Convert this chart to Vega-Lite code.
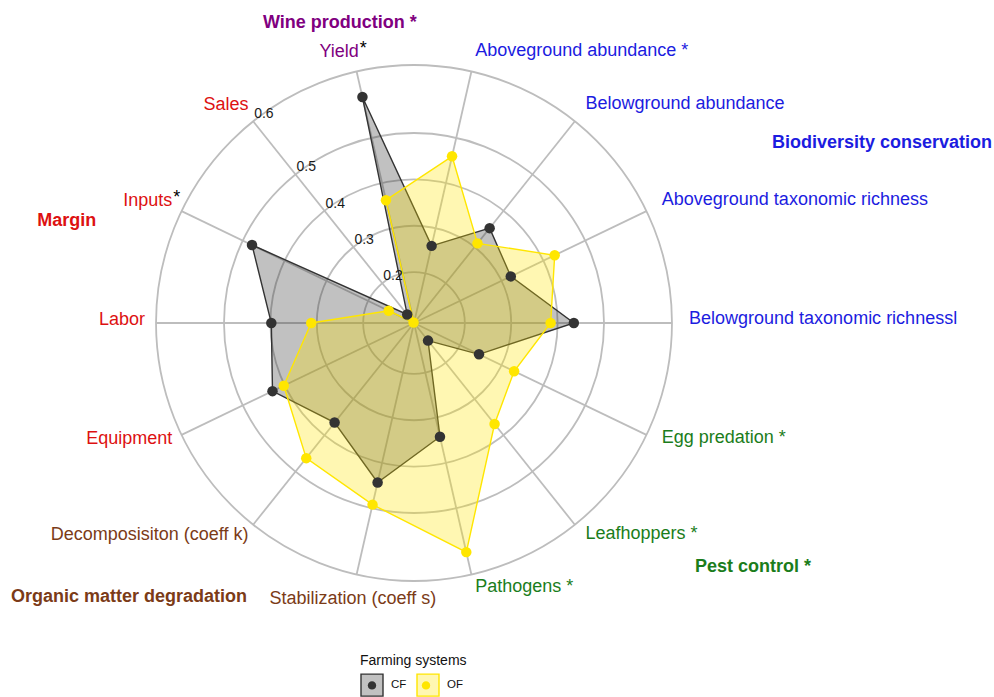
{
  "$schema": "https://vega.github.io/schema/vega-lite/v6.json",
  "width": 828,
  "height": 646,
  "autosize": "none",
  "padding": {"left": 0, "top": 0, "right": 166, "bottom": 51},
  "background": "white",
  "params": [
    {"name": "r0", "value": 0.0905},
    {"name": "rmax", "value": 0.6465},
    {"name": "rlab", "value": 0.6832}
  ],
  "datasets": {
    "axes": [
      {"idx": 0, "axis": "Aboveground abundance", "group": "Biodiversity conservation", "sig": true},
      {"idx": 1, "axis": "Belowground abundance", "group": "Biodiversity conservation", "sig": false},
      {"idx": 2, "axis": "Aboveground taxonomic richness", "group": "Biodiversity conservation", "sig": false},
      {"idx": 3, "axis": "Belowground taxonomic richnessl", "group": "Biodiversity conservation", "sig": false},
      {"idx": 4, "axis": "Egg predation", "group": "Pest control", "sig": true},
      {"idx": 5, "axis": "Leafhoppers", "group": "Pest control", "sig": true},
      {"idx": 6, "axis": "Pathogens", "group": "Pest control", "sig": true},
      {"idx": 7, "axis": "Stabilization (coeff s)", "group": "Organic matter degradation", "sig": false},
      {"idx": 8, "axis": "Decomposisiton (coeff k)", "group": "Organic matter degradation", "sig": false},
      {"idx": 9, "axis": "Equipment", "group": "Margin", "sig": false},
      {"idx": 10, "axis": "Labor", "group": "Margin", "sig": false},
      {"idx": 11, "axis": "Inputs", "group": "Margin", "sig": true},
      {"idx": 12, "axis": "Sales", "group": "Margin", "sig": false},
      {"idx": 13, "axis": "Yield", "group": "Wine production", "sig": true}
    ],
    "scores": [
      {"idx": 0, "system": "CF", "value": 0.261},
      {"idx": 1, "system": "CF", "value": 0.352},
      {"idx": 2, "system": "CF", "value": 0.322},
      {"idx": 3, "system": "CF", "value": 0.435},
      {"idx": 4, "system": "CF", "value": 0.246},
      {"idx": 5, "system": "CF", "value": 0.139},
      {"idx": 6, "system": "CF", "value": 0.342},
      {"idx": 7, "system": "CF", "value": 0.443},
      {"idx": 8, "system": "CF", "value": 0.365},
      {"idx": 9, "system": "CF", "value": 0.429},
      {"idx": 10, "system": "CF", "value": 0.398},
      {"idx": 11, "system": "CF", "value": 0.478},
      {"idx": 12, "system": "CF", "value": 0.114},
      {"idx": 13, "system": "CF", "value": 0.590},
      {"idx": 0, "system": "OF", "value": 0.459},
      {"idx": 1, "system": "OF", "value": 0.310},
      {"idx": 2, "system": "OF", "value": 0.427},
      {"idx": 3, "system": "OF", "value": 0.385},
      {"idx": 4, "system": "OF", "value": 0.330},
      {"idx": 5, "system": "OF", "value": 0.369},
      {"idx": 6, "system": "OF", "value": 0.597},
      {"idx": 7, "system": "OF", "value": 0.492},
      {"idx": 8, "system": "OF", "value": 0.463},
      {"idx": 9, "system": "OF", "value": 0.402},
      {"idx": 10, "system": "OF", "value": 0.312},
      {"idx": 11, "system": "OF", "value": 0.151},
      {"idx": 12, "system": "OF", "value": 0.092},
      {"idx": 13, "system": "OF", "value": 0.362}
    ],
    "grid": [
      {"level": 0.2, "label": "0.2"},
      {"level": 0.3, "label": "0.3"},
      {"level": 0.4, "label": "0.4"},
      {"level": 0.5, "label": "0.5"},
      {"level": 0.6465, "label": "0.6"}
    ],
    "groups": [
      {"group": "Wine production", "sig": true, "gx": -0.3254, "gy": 0.6466},
      {"group": "Biodiversity conservation", "sig": false, "gx": 0.7716, "gy": 0.3879},
      {"group": "Pest control", "sig": true, "gx": 0.6056, "gy": -0.5252},
      {"group": "Organic matter degradation", "sig": false, "gx": -0.8685, "gy": -0.5905},
      {"group": "Margin", "sig": false, "gx": -0.8118, "gy": 0.2205}
    ]
  },
  "layer": [
    {
      "data": {"name": "grid"},
      "transform": [{"calculate": "datum.level - r0", "as": "rr"}],
      "mark": {"type": "point", "shape": "circle", "filled": false, "opacity": 1, "stroke": "#bdbdbd", "strokeWidth": 1.8},
      "encoding": {
        "x": {"datum": 0, "type": "quantitative", "scale": {"domain": [-0.892241, 0.892241], "nice": false, "zero": false}, "axis": null},
        "y": {"datum": 0, "type": "quantitative", "scale": {"domain": [-0.696121, 0.696121], "nice": false, "zero": false}, "axis": null},
        "size": {"field": "rr", "type": "quantitative", "legend": null, "scale": {"type": "pow", "exponent": 2, "domain": [0, 1], "range": [0, 861184], "zero": true, "nice": false}}
      }
    },
    {
      "data": {"name": "axes"},
      "transform": [
        {"calculate": "(2*datum.idx+1)*PI/14", "as": "ang"},
        {"calculate": "(rmax-r0)*sin(datum.ang)", "as": "px"},
        {"calculate": "(rmax-r0)*cos(datum.ang)", "as": "py"},
        {"calculate": "0", "as": "cx"}
      ],
      "mark": {"type": "rule", "stroke": "#bdbdbd", "strokeWidth": 1.8},
      "encoding": {
        "x": {"field": "cx", "type": "quantitative", "scale": {"domain": [-0.892241, 0.892241], "nice": false, "zero": false}, "axis": null},
        "y": {"field": "cx", "type": "quantitative", "scale": {"domain": [-0.696121, 0.696121], "nice": false, "zero": false}, "axis": null},
        "x2": {"field": "px"},
        "y2": {"field": "py"}
      }
    },
    {
      "data": {"name": "scores"},
      "transform": [
        {"filter": "datum.system === 'CF'"},
        {"calculate": "(2*datum.idx+1)*PI/14", "as": "ang"},
        {"calculate": "(datum.value-r0)*sin(datum.ang)", "as": "px"},
        {"calculate": "(datum.value-r0)*cos(datum.ang)", "as": "py"}
      ],
      "mark": {"type": "line", "interpolate": "linear-closed", "fillOpacity": 0.3, "strokeWidth": 1.4},
      "encoding": {
        "x": {"field": "px", "type": "quantitative", "scale": {"domain": [-0.892241, 0.892241], "nice": false, "zero": false}, "axis": null},
        "y": {"field": "py", "type": "quantitative", "scale": {"domain": [-0.696121, 0.696121], "nice": false, "zero": false}, "axis": null},
        "order": {"field": "idx", "type": "quantitative"},
        "fill": {"field": "system", "type": "nominal", "scale": {"domain": ["CF", "OF"], "range": ["#333333", "#ffe600"]},
          "legend": {"title": "Farming systems", "orient": "none", "legendX": 360, "legendY": 654, "direction": "horizontal", "symbolType": "square", "symbolSize": 484, "symbolStrokeWidth": 1.5, "labelOffset": 7, "columnPadding": 7, "titlePadding": 5, "padding": 0, "titleFontSize": 14, "titleFontWeight": "normal", "titleColor": "#111111", "labelFontSize": 11.5, "labelColor": "#111111"}},
        "stroke": {"field": "system", "type": "nominal", "scale": {"domain": ["CF", "OF"], "range": ["#333333", "#ffe600"]},
          "legend": {"title": "Farming systems", "orient": "none", "legendX": 360, "legendY": 654, "direction": "horizontal", "symbolType": "square", "symbolSize": 484, "symbolStrokeWidth": 1.5, "labelOffset": 7, "columnPadding": 7, "titlePadding": 5, "padding": 0, "titleFontSize": 14, "titleFontWeight": "normal", "titleColor": "#111111", "labelFontSize": 11.5, "labelColor": "#111111"}}
      }
    },
    {
      "data": {"name": "scores"},
      "transform": [
        {"filter": "datum.system === 'OF'"},
        {"calculate": "(2*datum.idx+1)*PI/14", "as": "ang"},
        {"calculate": "(datum.value-r0)*sin(datum.ang)", "as": "px"},
        {"calculate": "(datum.value-r0)*cos(datum.ang)", "as": "py"}
      ],
      "mark": {"type": "line", "interpolate": "linear-closed", "fillOpacity": 0.3, "strokeWidth": 1.4},
      "encoding": {
        "x": {"field": "px", "type": "quantitative", "scale": {"domain": [-0.892241, 0.892241], "nice": false, "zero": false}, "axis": null},
        "y": {"field": "py", "type": "quantitative", "scale": {"domain": [-0.696121, 0.696121], "nice": false, "zero": false}, "axis": null},
        "order": {"field": "idx", "type": "quantitative"},
        "fill": {"field": "system", "type": "nominal", "scale": {"domain": ["CF", "OF"], "range": ["#333333", "#ffe600"]}},
        "stroke": {"field": "system", "type": "nominal", "scale": {"domain": ["CF", "OF"], "range": ["#333333", "#ffe600"]}}
      }
    },
    {
      "data": {"name": "scores"},
      "transform": [
        {"calculate": "(2*datum.idx+1)*PI/14", "as": "ang"},
        {"calculate": "(datum.value-r0)*sin(datum.ang)", "as": "px"},
        {"calculate": "(datum.value-r0)*cos(datum.ang)", "as": "py"}
      ],
      "mark": {"type": "circle", "size": 110, "opacity": 1},
      "encoding": {
        "x": {"field": "px", "type": "quantitative", "scale": {"domain": [-0.892241, 0.892241], "nice": false, "zero": false}, "axis": null},
        "y": {"field": "py", "type": "quantitative", "scale": {"domain": [-0.696121, 0.696121], "nice": false, "zero": false}, "axis": null},
        "color": {"field": "system", "type": "nominal",
          "scale": {"domain": ["CF", "OF", "Wine production", "Biodiversity conservation", "Pest control", "Organic matter degradation", "Margin"], "range": ["#333333", "#ffe600", "#800080", "#1c1ce0", "#1b7d1b", "#7b3b17", "#dd1111"]},
          "legend": {"title": "Farming systems", "values": ["CF", "OF"], "orient": "none", "legendX": 360, "legendY": 654, "direction": "horizontal", "symbolType": "M-0.38,0A0.38,0.38,0,1,1,0.38,0A0.38,0.38,0,1,1,-0.38,0Z", "symbolSize": 484, "symbolStrokeWidth": 1.5, "symbolStrokeColor": "transparent", "labelOffset": 7, "columnPadding": 7, "titlePadding": 5, "padding": 0, "titleFontSize": 14, "titleFontWeight": "normal", "titleColor": "transparent", "labelFontSize": 11.5, "labelColor": "transparent"}}
      }
    },
    {
      "data": {"name": "grid"},
      "transform": [
        {"calculate": "(datum.level-r0)*sin(25*PI/14)", "as": "px"},
        {"calculate": "(datum.level-r0)*cos(25*PI/14)", "as": "py"}
      ],
      "mark": {"type": "text", "align": "left", "baseline": "bottom", "fontSize": 14, "color": "#1a1a1a", "dx": 1},
      "encoding": {
        "x": {"field": "px", "type": "quantitative", "scale": {"domain": [-0.892241, 0.892241], "nice": false, "zero": false}, "axis": null},
        "y": {"field": "py", "type": "quantitative", "scale": {"domain": [-0.696121, 0.696121], "nice": false, "zero": false}, "axis": null},
        "text": {"field": "label"}
      }
    },
    {
      "data": {"name": "axes"},
      "transform": [
        {"filter": "datum.idx <= 6"},
        {"calculate": "(2*datum.idx+1)*PI/14", "as": "ang"},
        {"calculate": "(rlab-r0)*sin(datum.ang)", "as": "px"},
        {"calculate": "(rlab-r0)*cos(datum.ang)", "as": "py"},
        {"calculate": "datum.sig ? datum.axis + '\u00a0*' : datum.axis", "as": "labeltext"}
      ],
      "mark": {"type": "text", "align": "left", "baseline": "middle", "fontSize": 18, "dy": -4},
      "encoding": {
        "x": {"field": "px", "type": "quantitative", "scale": {"domain": [-0.892241, 0.892241], "nice": false, "zero": false}, "axis": null},
        "y": {"field": "py", "type": "quantitative", "scale": {"domain": [-0.696121, 0.696121], "nice": false, "zero": false}, "axis": null},
        "text": {"field": "labeltext"},
        "color": {"field": "group", "type": "nominal", "legend": null}
      }
    },
    {
      "data": {"name": "axes"},
      "transform": [
        {"filter": "datum.idx >= 8"},
        {"calculate": "(2*datum.idx+1)*PI/14", "as": "ang"},
        {"calculate": "(rlab-r0)*sin(datum.ang)", "as": "px"},
        {"calculate": "(rlab-r0)*cos(datum.ang)", "as": "py"}
      ],
      "mark": {"type": "text", "align": "right", "baseline": "middle", "fontSize": 18, "dx": 6, "dy": -3},
      "encoding": {
        "x": {"field": "px", "type": "quantitative", "scale": {"domain": [-0.892241, 0.892241], "nice": false, "zero": false}, "axis": null},
        "y": {"field": "py", "type": "quantitative", "scale": {"domain": [-0.696121, 0.696121], "nice": false, "zero": false}, "axis": null},
        "text": {"field": "axis"},
        "color": {"field": "group", "type": "nominal", "legend": null}
      }
    },
    {
      "data": {"name": "axes"},
      "transform": [
        {"filter": "datum.idx >= 8 && datum.sig"},
        {"calculate": "(2*datum.idx+1)*PI/14", "as": "ang"},
        {"calculate": "(rlab-r0)*sin(datum.ang)", "as": "px"},
        {"calculate": "(rlab-r0)*cos(datum.ang)", "as": "py"},
        {"calculate": "'\u00a0*'", "as": "star"}
      ],
      "mark": {"type": "text", "align": "left", "baseline": "middle", "fontSize": 18, "dx": 7, "dy": -6, "color": "#000000"},
      "encoding": {
        "x": {"field": "px", "type": "quantitative", "scale": {"domain": [-0.892241, 0.892241], "nice": false, "zero": false}, "axis": null},
        "y": {"field": "py", "type": "quantitative", "scale": {"domain": [-0.696121, 0.696121], "nice": false, "zero": false}, "axis": null},
        "text": {"field": "star"}
      }
    },
    {
      "data": {"name": "axes"},
      "transform": [
        {"filter": "datum.idx == 7"},
        {"calculate": "(2*datum.idx+1)*PI/14", "as": "ang"},
        {"calculate": "(rlab-r0)*sin(datum.ang)", "as": "px"},
        {"calculate": "(rlab-r0)*cos(datum.ang)", "as": "py"}
      ],
      "mark": {"type": "text", "align": "center", "baseline": "middle", "fontSize": 18, "dy": 8},
      "encoding": {
        "x": {"field": "px", "type": "quantitative", "scale": {"domain": [-0.892241, 0.892241], "nice": false, "zero": false}, "axis": null},
        "y": {"field": "py", "type": "quantitative", "scale": {"domain": [-0.696121, 0.696121], "nice": false, "zero": false}, "axis": null},
        "text": {"field": "axis"},
        "color": {"field": "group", "type": "nominal", "legend": null}
      }
    },
    {
      "data": {"name": "groups"},
      "transform": [
        {"calculate": "datum.sig ? datum.group + '\u00a0*' : datum.group", "as": "labeltext"}
      ],
      "mark": {"type": "text", "align": "left", "baseline": "middle", "fontSize": 18, "fontWeight": "bold"},
      "encoding": {
        "x": {"field": "gx", "type": "quantitative", "scale": {"domain": [-0.892241, 0.892241], "nice": false, "zero": false}, "axis": null},
        "y": {"field": "gy", "type": "quantitative", "scale": {"domain": [-0.696121, 0.696121], "nice": false, "zero": false}, "axis": null},
        "text": {"field": "labeltext"},
        "color": {"field": "group", "type": "nominal", "legend": null}
      }
    }
  ],
  "config": {
    "view": {"stroke": null},
    "line": {"fillOpacity": 0.3, "strokeWidth": 1.4},
    "text": {"font": "Liberation Sans"},
    "legend": {"titleFont": "Liberation Sans", "labelFont": "Liberation Sans"}
  }
}
